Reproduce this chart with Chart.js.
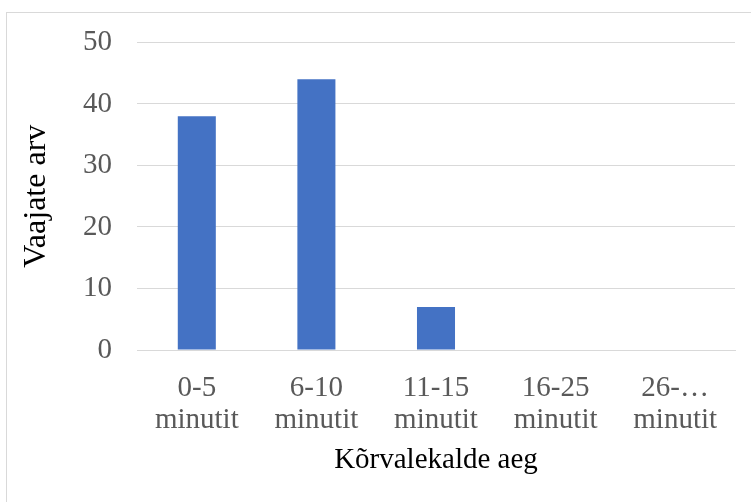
<!DOCTYPE html>
<html>
<head>
<meta charset="utf-8">
<script src="https://cdn.jsdelivr.net/npm/chart.js@4/dist/chart.umd.min.js"></script>
<style>
  html, body { margin: 0; padding: 0; background: #fff; }
  #c { display: block; }
</style>
</head>
<body>
<canvas id="c" width="751" height="502" style="width:751px;height:502px"></canvas>
<script>
const categories = [["0-5", "minutit"], ["6-10", "minutit"], ["11-15", "minutit"], ["16-25", "minutit"], ["26-…", "minutit"]];
const counts = [38, 44, 7, 0, 0];
const yTitle = "Vaajate arv";
const xTitle = "Kõrvalekalde aeg";

const serif = "'Liberation Serif', 'Times New Roman', serif";
const gridColor = "#d9d9d9";

// thin frame around the whole chart area
const framePlugin = {
  id: "frame",
  afterDraw(chart) {
    const ctx = chart.ctx;
    ctx.save();
    ctx.strokeStyle = "#d9d9d9";
    ctx.lineWidth = 1;
    ctx.strokeRect(6.5, 12.5, 1000, 1000);
    ctx.restore();
  }
};

new Chart(document.getElementById("c"), {
  type: "bar",
  data: {
    labels: categories,
    datasets: [{
      data: counts,
      backgroundColor: "#4472c4",
      borderWidth: 0,
      categoryPercentage: 1,
      barPercentage: 0.318
    }]
  },
  options: {
    responsive: false,
    animation: false,
    devicePixelRatio: 1,
    layout: { padding: { top: 41, right: 16, bottom: 0, left: 0 } },
    plugins: { legend: { display: false }, tooltip: { enabled: false } },
    scales: {
      x: {
        grid: { display: false, drawTicks: false },
        border: { display: true, color: gridColor, width: 1 },
        ticks: {
          color: "#595959",
          padding: 22,
          maxRotation: 0,
          autoSkip: false,
          font: { family: serif, size: 29, lineHeight: "32px" }
        },
        title: {
          display: true,
          text: xTitle,
          color: "#000000",
          font: { family: serif, size: 29, lineHeight: 1.2 },
          padding: { top: 0, bottom: 24.6 }
        },
        afterFit(scale) { scale.height = 152; }
      },
      y: {
        min: 0,
        max: 50,
        ticks: {
          stepSize: 10,
          color: "#595959",
          padding: 25,
          font: { family: serif, size: 29, lineHeight: 1.2 }
        },
        grid: { color: gridColor, lineWidth: 1, drawTicks: false },
        border: { display: false },
        title: {
          display: true,
          text: yTitle,
          color: "#000000",
          font: { family: serif, size: 32, lineHeight: 1.2 },
          padding: { top: 17, bottom: 0 }
        },
        afterFit(scale) { scale.width = 137; }
      }
    }
  },
  plugins: [framePlugin]
});
</script>
</body>
</html>
